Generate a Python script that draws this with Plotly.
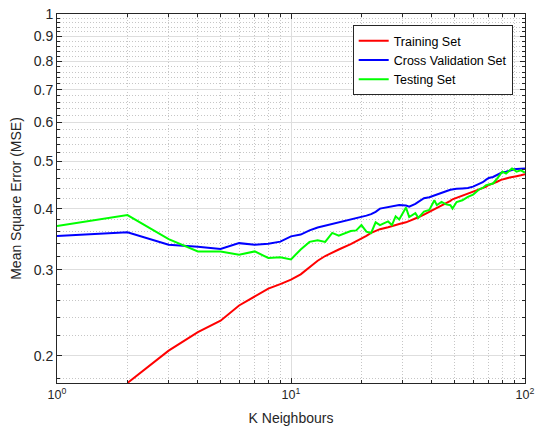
import plotly.graph_objects as go

# ---------------- data ----------------
k_values = [1, 2, 3, 4, 5, 6, 7, 8, 9, 10, 11, 12, 13, 14, 15, 16, 18, 19, 20, 21,
            22, 23, 24, 26, 27, 28, 29, 31, 32, 34, 35, 37, 39, 41, 42, 44, 46, 48,
            49, 51, 54, 57, 60, 62, 64, 66, 68, 70, 73, 76, 79, 80, 83, 86, 88, 90,
            92, 96, 100]

training_mse = [None, 0.176, 0.205, 0.2236, 0.236, 0.2535, 0.2645, 0.2744, 0.2804, 0.2862,
                0.2935, 0.3037, 0.313, 0.320, 0.3255, 0.330, 0.3385, 0.343, 0.3471, 0.352,
                0.3567, 0.360, 0.3631, 0.3665, 0.368, 0.370, 0.372, 0.375, 0.377, 0.381,
                0.384, 0.389, 0.394, 0.399, 0.402, 0.406, 0.410, 0.415, 0.418, 0.421,
                0.426, 0.430, 0.4335, 0.436, 0.438, 0.440, 0.443, 0.447, 0.4502, 0.454,
                0.458, 0.4592, 0.461, 0.463, 0.4635, 0.4643, 0.466, 0.468, 0.4704]

cv_mse = [0.3516, 0.358, 0.3375, 0.3344, 0.3307, 0.340, 0.3375, 0.339, 0.3424, 0.351,
          0.354, 0.361, 0.366, 0.369, 0.372, 0.375, 0.380, 0.382, 0.3845, 0.387,
          0.3897, 0.394, 0.400, 0.403, 0.405, 0.406, 0.407, 0.406, 0.4037, 0.409,
          0.413, 0.420, 0.422, 0.426, 0.428, 0.431, 0.434, 0.437, 0.438, 0.439,
          0.440, 0.441, 0.4436, 0.447, 0.450, 0.453, 0.458, 0.462, 0.4643, 0.469,
          0.473, 0.4746, 0.476, 0.479, 0.481, 0.4815, 0.482, 0.483, 0.483]

testing_mse = [0.3685, 0.388, 0.3466, 0.327, 0.327, 0.322, 0.327, 0.317, 0.318, 0.315,
               0.330, 0.342, 0.3445, 0.342, 0.3567, 0.352, 0.360, 0.361, 0.3702, 0.359,
               0.3567, 0.375, 0.3702, 0.3766, 0.3702, 0.3857, 0.380, 0.4019, 0.3845, 0.3916,
               0.383, 0.3946, 0.3976, 0.416, 0.4066, 0.4127, 0.408, 0.4066, 0.400, 0.4127,
               0.416, 0.4228, 0.4273, 0.4335, 0.4386, 0.441, 0.4464, 0.448, 0.4502, 0.4606,
               0.4704, 0.476, 0.472, 0.478, 0.483, 0.480, 0.476, 0.479, 0.474]

series_names = ["Training Set", "Cross Validation Set", "Testing Set"]

x_tick_vals = [1, 10, 100]
x_tick_text = ["10<sup>0</sup>", "10<sup>1</sup>", "10<sup>2</sup>"]
y_tick_vals = [0.2, 0.3, 0.4, 0.5, 0.6, 0.7, 0.8, 0.9, 1.0]
y_tick_text = ["0.2", "0.3", "0.4", "0.5", "0.6", "0.7", "0.8", "0.9", "1"]

# ---------------- figure ----------------
colors = ["#ff0000", "#0000ff", "#00ff00"]
fig = go.Figure()
for name, vals, col in zip(series_names, [training_mse, cv_mse, testing_mse], colors):
    fig.add_trace(go.Scatter(x=k_values, y=vals, mode="lines", name=name,
                             line=dict(color=col, width=2), connectgaps=False))

x_minor = [m * d for d in (1, 10) for m in range(2, 10)]
y_minor = [round(0.18 + 0.02 * i, 2) for i in range(42)]
y_minor = [v for v in y_minor if v <= 1.0 and round(v * 10, 6) != round(v * 10)]

axis_col = "#262626"
grid_col = "#dedede"
minor_grid_col = "#c6c6c6"
font_family = "Liberation Sans, Arial, sans-serif"

fig.update_layout(
    width=535, height=432,
    margin=dict(l=57, r=10, t=14, b=49, autoexpand=False),
    paper_bgcolor="white", plot_bgcolor="white",
    font=dict(family=font_family, size=14, color=axis_col),
    showlegend=True,
    legend=dict(x=0.9737, y=0.970, xanchor="right", yanchor="top",
                bgcolor="white", bordercolor=axis_col, borderwidth=1,
                font=dict(size=12.5, color="black"), tracegroupgap=0,
                itemwidth=30),
)

fig.update_xaxes(
    type="log", range=[0, 2], automargin=False,
    tickvals=x_tick_vals, ticktext=x_tick_text,
    ticks="inside", ticklen=5, tickcolor=axis_col,
    showline=True, linecolor=axis_col, linewidth=1, mirror="allticks",
    showgrid=True, gridcolor=grid_col, gridwidth=1,
    zeroline=False,
    minor=dict(tickvals=x_minor, ticks="inside", ticklen=3, tickcolor=axis_col,
               showgrid=True, gridcolor=minor_grid_col, griddash="1px,2px", gridwidth=1),
    title=dict(text="K Neighbours", font=dict(size=14, color=axis_col), standoff=12),
    tickfont=dict(size=12.5, color=axis_col),
)

fig.update_yaxes(
    type="log", range=[-0.7545, 0], automargin=False,
    tickvals=y_tick_vals, ticktext=y_tick_text,
    ticks="inside", ticklen=5, tickcolor=axis_col,
    showline=True, linecolor=axis_col, linewidth=1, mirror="allticks",
    showgrid=True, gridcolor=grid_col, gridwidth=1,
    zeroline=False,
    minor=dict(tickvals=y_minor, ticks="inside", ticklen=3, tickcolor=axis_col,
               showgrid=True, gridcolor=minor_grid_col, griddash="1px,2px", gridwidth=1),
    title=dict(text="Mean Square Error (MSE)", font=dict(size=14, color=axis_col), standoff=8),
    tickfont=dict(size=14, color=axis_col),
)

fig.write_html(
    "out.html",
    config={"displayModeBar": False},
    post_script="document.body.style.margin='0';document.body.style.padding='0';"
                "document.documentElement.style.overflow='hidden';",
)
